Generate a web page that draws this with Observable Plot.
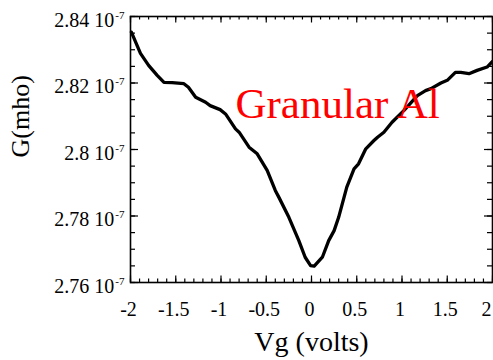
<!DOCTYPE html>
<html>
<head>
<meta charset="utf-8">
<script src="https://cdn.jsdelivr.net/npm/d3@7"></script>
<script src="https://cdn.jsdelivr.net/npm/@observablehq/plot@0.6"></script>
<style>
  html, body { margin: 0; padding: 0; background: white; }
  #chart svg, #chart svg text, #chart svg tspan {
    font-family: "Liberation Serif", "Times New Roman", serif !important;
  }
</style>
</head>
<body>
<div id="chart"></div>
<script>
// Data
const vg = [-1.99, -1.89, -1.80, -1.705, -1.63, -1.54, -1.41, -1.36, -1.28, -1.17,
  -1.12, -1.01, -0.95, -0.84, -0.80, -0.69, -0.60, -0.49, -0.40, -0.36,
  -0.25, -0.14, -0.07, -0.01, 0.03, 0.12, 0.19, 0.25, 0.30, 0.39,
  0.47, 0.52, 0.60, 0.69, 0.73, 0.80, 0.89, 1.02, 1.17, 1.26,
  1.32, 1.43, 1.50, 1.59, 1.65, 1.74, 1.83, 1.94, 2.0];
const conductance = [2.8353, 2.8289, 2.8253, 2.8223, 2.8202, 2.8201, 2.8198, 2.8187, 2.8157, 2.8142,
  2.8132, 2.8120, 2.8107, 2.8062, 2.8052, 2.8007, 2.7987, 2.7937, 2.7877, 2.7856,
  2.7796, 2.7726, 2.7676, 2.7651, 2.7649, 2.7676, 2.7726, 2.7756, 2.7796, 2.7887,
  2.7942, 2.7957, 2.8002, 2.8027, 2.8037, 2.8052, 2.8082, 2.8117, 2.8162, 2.8177,
  2.8183, 2.8200, 2.8208, 2.8232, 2.8232, 2.8228, 2.8238, 2.8248, 2.8265];

const xTicks = [-2, -1.5, -1, -0.5, 0, 0.5, 1, 1.5, 2];
const yTicks = [2.76, 2.78, 2.8, 2.82, 2.84];
const xMinorTicks = d3.range(-20, 21).map(i => i / 10);
const yMinorTicks = d3.range(0, 17).map(i => 2.76 + i * 0.005);
const yExponent = "-7";
const xLabel = "Vg (volts)";
const yLabel = "G(mho)";
const annotation = [{x: -0.84, y: 2.8135, text: "Granular Al"}];

const data = vg.map((v, i) => ({vg: v, g: conductance[i]}));

const W = 493, H = 360;
const mL = 130, mR = 1, mT = 16, mB = 78;
const innerW = W - mL - mR, innerH = H - mT - mB;
const serif = "'Liberation Serif', 'Times New Roman', serif";

const plot = Plot.plot({
  width: W,
  height: H,
  marginLeft: mL,
  marginRight: mR,
  marginTop: mT,
  marginBottom: mB,
  style: `font-family: ${serif}; font-size: 20px; color: black; background: white; overflow: visible;`,
  x: {domain: [-2, 2]},
  y: {domain: [2.76, 2.84]},
  marks: [
    // inward ticks: bottom & top
    Plot.tickX(xMinorTicks, {x: d => d, insetTop: innerH - 3.5, stroke: "black", strokeWidth: 1.2}),
    Plot.tickX(xMinorTicks, {x: d => d, insetBottom: innerH - 3.5, stroke: "black", strokeWidth: 1.2}),
    Plot.tickX(xTicks, {x: d => d, insetTop: innerH - 6.5, stroke: "black", strokeWidth: 1.2}),
    Plot.tickX(xTicks, {x: d => d, insetBottom: innerH - 6.5, stroke: "black", strokeWidth: 1.2}),
    // inward ticks: left & right
    Plot.tickY(yMinorTicks, {y: d => d, insetRight: innerW - 5, stroke: "black", strokeWidth: 1.2}),
    Plot.tickY(yMinorTicks, {y: d => d, insetLeft: innerW - 5, stroke: "black", strokeWidth: 1.2}),
    Plot.tickY(yTicks, {y: d => d, insetRight: innerW - 8, stroke: "black", strokeWidth: 1.2}),
    Plot.tickY(yTicks, {y: d => d, insetLeft: innerW - 8, stroke: "black", strokeWidth: 1.2}),
    Plot.frame({stroke: "black", strokeWidth: 1.6}),
    Plot.axisX({ticks: xTicks, tickSize: 0, tickPadding: 19, tickFormat: d => String(d), label: null, fontSize: 20, dx: -2}),
    Plot.axisY({ticks: yTicks, tickSize: 0, tickPadding: 6, tickFormat: d => `${d} 10`, label: null, fontSize: 20, dy: 4}),
    Plot.line(data, {x: "vg", y: "g", stroke: "black", strokeWidth: 3.3, strokeLinejoin: "round", strokeLinecap: "round"}),
    Plot.text(annotation, {x: "x", y: "y", text: "text", fill: "red", fontSize: 43, textAnchor: "start", lineAnchor: "middle"}),
    Plot.text([xLabel], {text: d => d, frameAnchor: "bottom", dy: 60, fontSize: 28, lineAnchor: "middle"}),
    Plot.text([yLabel], {text: d => d, frameAnchor: "left", rotate: -90, dx: -110, dy: 8, fontSize: 26, lineAnchor: "middle"})
  ]
});

document.getElementById("chart").appendChild(plot);

// superscript exponent on y tick labels
d3.select(plot).selectAll('g[aria-label="y-axis tick label"] text').each(function () {
  d3.select(this).append("tspan")
    .attr("dx", 1)
    .attr("dy", -8)
    .attr("font-size", 11)
    .text(yExponent);
});
// keep the last x tick label inside the picture, as in the reference
const xl = d3.select(plot).selectAll('g[aria-label="x-axis tick label"] text').nodes();
if (xl.length) d3.select(xl[xl.length - 1]).attr("text-anchor", "end").attr("dx", 1);
</script>
</body>
</html>
